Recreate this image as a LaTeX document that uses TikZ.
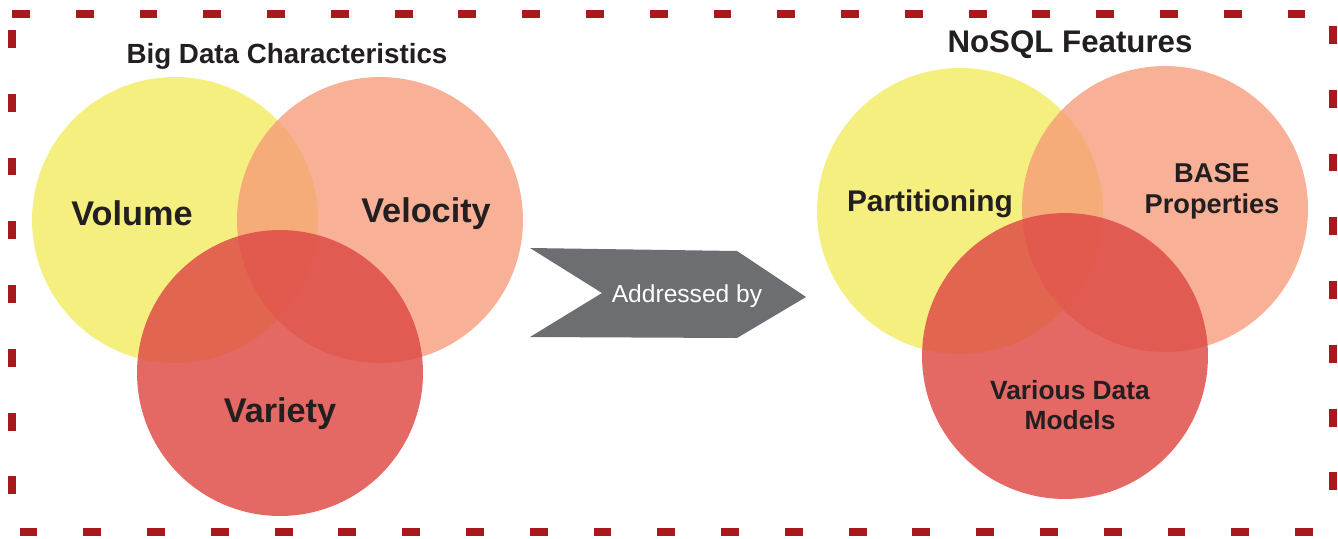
\documentclass[tikz,border=0pt]{standalone}
\usepackage{fontspec}
\setmainfont{Liberation Sans}
\usetikzlibrary{positioning}
\definecolor{vyellow}{RGB}{245,239,128}
\definecolor{vsalmon}{RGB}{246,152,119}
\definecolor{vred}{RGB}{223,75,70}
\definecolor{framered}{RGB}{168,25,30}
\definecolor{arrowgrey}{RGB}{109,110,113}
\definecolor{txt}{RGB}{35,31,32}
\tikzset{
    %Define style for the circles
    venn/.style={
           circle,
           inner sep=0pt,
           minimum size=5.72cm},
    yel/.style={venn, fill=vyellow},
    sal/.style={venn, fill=vsalmon, fill opacity=0.77},
    redc/.style={venn, fill=vred, fill opacity=0.84},
    % Define style for texts
    lbl/.style={
           text=txt,
           font=\bfseries,
           align=center,
           inner sep=0pt},
    % Define frame style
    rim/.style={
           draw=framered,
           line width=4.5pt,
           dash pattern=on 10.2pt off 26.1pt}
}
\begin{document}
\begin{tikzpicture}[x=0.02cm, y=-0.02cm]
\useasboundingbox (0,0) rectangle (1338,538);
%Frame
\draw[rim] (12,14) -- (1333,14);
\draw[rim, dash phase=27.2pt] (12,14) -- (12,532);
\draw[rim, dash phase=29.5pt] (1333,14) -- (1333,532);
\draw[rim, dash phase=32pt] (12,532) -- (1333,532);
%Left circles
\node[yel] (volume) at (175,220) {};
\node[sal] (velocity) at (380,220) {};
\node[redc] (variety) at (280,373) {};
\node[lbl, font=\bfseries\fontsize{19.5}{22}\selectfont] (tvolume) at (132,213) {Volume};
\node[lbl, font=\bfseries\fontsize{19.5}{22}\selectfont] (tvelocity) at (426,214) {Velocity};
\node[lbl, font=\bfseries\fontsize{19.5}{22}\selectfont] (tvariety) at (280,414) {Variety};
\node[lbl, font=\bfseries\fontsize{15.8}{18}\selectfont] (bigdata) at (287,56) {Big Data Characteristics};
%Arrow
\fill[arrowgrey] (530,248) -- (737,251) -- (806,297) -- (737,338) -- (530,337) -- (602,293) -- cycle;
\node[text=white, inner sep=0pt, font=\fontsize{14}{17}\selectfont] (addressed) at (687,296) {Addressed by};
%Right circles
\node[yel] (partition) at (960,211) {};
\node[sal] (base) at (1165,209) {};
\node[redc] (models) at (1065,356) {};
\node[lbl, font=\bfseries\fontsize{17}{20}\selectfont] (tpartition) at (930,204) {Partitioning};
\node[lbl, font=\bfseries\fontsize{15.5}{17.6}\selectfont] (tbase) at (1212,191) {BASE\\Properties};
\node[lbl, font=\bfseries\fontsize{15}{17}\selectfont] (tmodels) at (1070,405) {Various Data\\Models};
\node[lbl, font=\bfseries\fontsize{17.8}{20}\selectfont] (nosql) at (1070,45) {NoSQL Features};
\end{tikzpicture}
\end{document}
